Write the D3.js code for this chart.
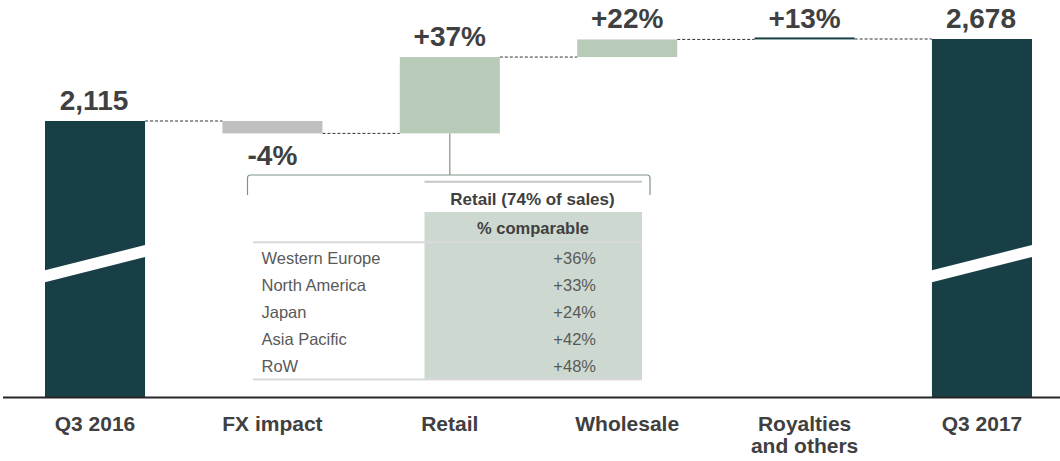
<!DOCTYPE html>
<html><head><meta charset="utf-8">
<script src="https://cdn.jsdelivr.net/npm/d3@7"></script>
<style>body{margin:0;background:#fff}svg{display:block;font-family:"Liberation Sans",Arial,sans-serif}</style>
</head><body><svg id="c" width="1060" height="461"></svg>
<script>
// ---- data ----
const categories = ["Q3 2016", "FX impact", "Retail", "Wholesale", "Royalties|and others", "Q3 2017"];
const kinds = ["total", "neg", "pos", "pos", "royal", "total"];
const values = [2115, -85, 524, 121, 3, 2678];
const valueLabels = ["2,115", "-4%", "+37%", "+22%", "+13%", "2,678"];
const tableHeader = "Retail (74% of sales)";
const tableSubHeader = "% comparable";
const regions = ["Western Europe", "North America", "Japan", "Asia Pacific", "RoW"];
const regionComparable = ["+36%", "+33%", "+24%", "+42%", "+48%"];

// ---- layout ----
const svg = d3.select("#c");
const baseY = 397.5;
const x = d3.scaleBand().domain(categories).range([45, 1032]).paddingInner(0.436).paddingOuter(0);
const y = d3.scaleLinear().domain([2115, 2678]).range([121, 39]);
const bw = x.bandwidth();
const colors = {total: "#173f45", neg: "#bfbfbf", pos: "#b8cbb9", royal: "#173f45"};
const textCol = "#404040";

// compute waterfall
let run = 0;
const bars = categories.map((c, i) => {
  let y0, y1;
  if (kinds[i] === "total") { run = values[i]; y0 = baseY; y1 = y(values[i]); }
  else { const s = run; run += values[i]; y0 = y(s); y1 = y(run); }
  return {c, i, kind: kinds[i], top: Math.min(y0, y1), bot: Math.max(y0, y1), level: y(run), label: valueLabels[i]};
});

// connectors
const g = svg.append("g");
bars.slice(0, -1).forEach((b, i) => {
  const n = bars[i + 1];
  g.append("line").attr("x1", x(b.c) + bw).attr("x2", x(n.c))
    .attr("y1", b.level).attr("y2", b.level)
    .attr("stroke", "#333").attr("stroke-width", 1).attr("stroke-dasharray", "3,2");
});

// bars
bars.forEach(b => {
  let top = b.top, h = b.bot - b.top;
  if (b.kind === "royal" && h < 2) { top = top - (2 - h); h = 2; }
  g.append("rect").attr("x", x(b.c)).attr("y", top).attr("width", bw).attr("height", h)
    .attr("fill", colors[b.kind]);
  if (b.kind === "total") {
    // axis break slash
    const x0 = x(b.c) - 1, x1 = x(b.c) + bw + 1;
    g.append("path").attr("d", `M${x0},${baseY - 127} L${x1},${baseY - 152.7} L${x1},${baseY - 140.7} L${x0},${baseY - 115} Z`)
      .attr("fill", "#fff");
  }
  const lx = x(b.c) + bw / 2 - (b.kind === "total" ? 1 : 0);
  const ly = b.kind === "neg" ? b.bot + 31.5 : b.top - 11;
  g.append("text").attr("x", lx).attr("y", ly).attr("text-anchor", "middle")
    .attr("font-size", 28).attr("font-weight", "bold").attr("fill", textCol).text(b.label);
});

// baseline
svg.append("line").attr("x1", 3).attr("x2", 1060).attr("y1", baseY).attr("y2", baseY)
  .attr("stroke", "#262626").attr("stroke-width", 2);

// category labels
categories.forEach(c => {
  const t = svg.append("text").attr("x", x(c) + bw / 2).attr("y", 431).attr("text-anchor", "middle")
    .attr("font-size", 21).attr("font-weight", "bold").attr("fill", textCol);
  c.split("|").forEach((s, k) => t.append("tspan").attr("x", x(c) + bw / 2).attr("dy", k ? 22.3 : 0).text(s));
});

// bracket from Retail bar
const rb = bars[2];
const cx = x(rb.c) + bw / 2;
const bc = "#7d9583";
svg.append("line").attr("x1", cx).attr("x2", cx).attr("y1", rb.bot).attr("y2", 175)
  .attr("stroke", bc).attr("stroke-width", 1.2);
svg.append("path").attr("d", "M247.5,195 L247.5,178 Q247.5,175 250.5,175 L647,175 Q650,175 650,178 L650,195")
  .attr("fill", "none").attr("stroke", bc).attr("stroke-width", 1.2);

// table
const tL = 253, gL = 424.5, gR = 642;
svg.append("rect").attr("x", gL).attr("y", 212).attr("width", gR - gL).attr("height", 379.5 - 212).attr("fill", "#cdd9d0");
svg.append("line").attr("x1", gL).attr("x2", gR).attr("y1", 181.7).attr("y2", 181.7).attr("stroke", "#c6c6c6").attr("stroke-width", 2);
svg.append("line").attr("x1", tL).attr("x2", gR).attr("y1", 242.3).attr("y2", 242.3).attr("stroke", "#d9d9d9").attr("stroke-width", 2);
svg.append("line").attr("x1", tL).attr("x2", gR).attr("y1", 379.5).attr("y2", 379.5).attr("stroke", "#d9d9d9").attr("stroke-width", 2);
svg.append("text").attr("x", 532.5).attr("y", 204.5).attr("text-anchor", "middle").attr("font-size", 17)
  .attr("font-weight", "bold").attr("fill", textCol).text(tableHeader);
svg.append("text").attr("x", 533).attr("y", 233.5).attr("text-anchor", "middle").attr("font-size", 16.5)
  .attr("font-weight", "bold").attr("fill", textCol).text(tableSubHeader);
const rowY = d3.scaleLinear().domain([0, regions.length - 1]).range([263.5, 371.7]);
regions.forEach((r, i) => {
  svg.append("text").attr("x", 261.5).attr("y", rowY(i)).attr("font-size", 16.5).attr("fill", "#595959").text(r);
  svg.append("text").attr("x", 596).attr("y", rowY(i)).attr("text-anchor", "end").attr("font-size", 16.5).attr("fill", "#595959").text(regionComparable[i]);
});
</script></body></html>
